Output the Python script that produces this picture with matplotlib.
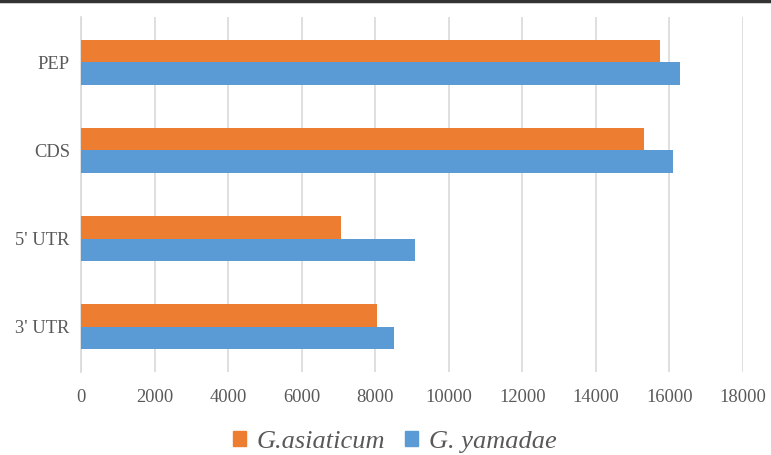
import numpy as np
import matplotlib.pyplot as plt
from matplotlib.patches import Patch
from matplotlib.lines import Line2D

categories = ["3' UTR", "5' UTR", "CDS", "PEP"]
asiaticum = [8060, 7070, 15300, 15730]
yamadae = [8500, 9080, 16090, 16290]
xticks = list(range(0, 18001, 2000))

orange = "#ED7D31"
blue = "#5B9BD5"
grey = "#595959"

plt.rcParams['font.family'] = ['Liberation Serif', 'DejaVu Serif']

fig = plt.figure(figsize=(7.71, 4.55), dpi=100)
ax = fig.add_axes([0.105, 0.1824, 0.8587, 0.7802])

y = np.arange(len(categories))
h = 0.255
ax.barh(y + h / 2, asiaticum, height=h, color=orange, zorder=3)
ax.barh(y - h / 2, yamadae, height=h, color=blue, zorder=3)

ax.set_xlim(0, 18000)
ax.set_ylim(-0.51, 3.51)
ax.set_xticks(xticks)
ax.set_xticklabels([str(t) for t in xticks])
ax.set_yticks(y)
ax.set_yticklabels(categories)
ax.tick_params(axis='both', length=0, labelsize=13.3, colors=grey)
ax.tick_params(axis='x', pad=12)
ax.tick_params(axis='y', pad=8)
ax.xaxis.grid(True, color="#D9D9D9", linewidth=1.2, zorder=0)

for side in ['top', 'right', 'bottom']:
    ax.spines[side].set_visible(False)
ax.spines['left'].set_color("#D9D9D9")
ax.spines['left'].set_linewidth(1.2)

# dark rule along the top edge of the figure
fig.add_artist(Line2D([0, 1], [0.997, 0.997], color="#333333", linewidth=2.5,
                      transform=fig.transFigure))

handles = [Patch(color=orange, label="G.asiaticum"),
           Patch(color=blue, label="G. yamadae")]
fig.legend(handles=handles, loc='center', bbox_to_anchor=(0.512, 0.028), ncol=2,
           frameon=False, prop={'style': 'italic', 'size': 19},
           handlelength=0.5, handleheight=0.5, handletextpad=0.4,
           columnspacing=0.75, labelcolor=grey)

fig.savefig("out.png", dpi=100)
